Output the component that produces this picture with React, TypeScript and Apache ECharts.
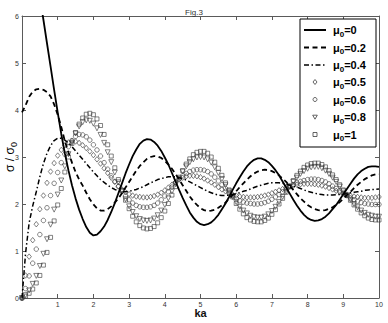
import React, { useEffect, useRef } from 'react';
import * as echarts from 'echarts';

// ka sample positions
const KA = [
  0, 0.1, 0.2, 0.3, 0.4, 0.5, 0.6, 0.7, 0.8, 0.9,
  1, 1.1, 1.2, 1.3, 1.4, 1.5, 1.6, 1.7, 1.8, 1.9,
  2, 2.1, 2.2, 2.3, 2.4, 2.5, 2.6, 2.7, 2.8, 2.9,
  3, 3.1, 3.2, 3.3, 3.4, 3.5, 3.6, 3.7, 3.8, 3.9,
  4, 4.1, 4.2, 4.3, 4.4, 4.5, 4.6, 4.7, 4.8, 4.9,
  5, 5.1, 5.2, 5.3, 5.4, 5.5, 5.6, 5.7, 5.8, 5.9,
  6, 6.1, 6.2, 6.3, 6.4, 6.5, 6.6, 6.7, 6.8, 6.9,
  7, 7.1, 7.2, 7.3, 7.4, 7.5, 7.6, 7.7, 7.8, 7.9,
  8, 8.1, 8.2, 8.3, 8.4, 8.5, 8.6, 8.7, 8.8, 8.9,
  9, 9.1, 9.2, 9.3, 9.4, 9.5, 9.6, 9.7, 9.8, 9.9,
  10,
];

// mu0 = 0 (solid)
const MU_0 = [
  null, null, null, null, null, 6.4, 5.92, 5.42, 4.93, 4.43,
  3.95, 3.49, 3.08, 2.72, 2.4, 2.12, 1.88, 1.68, 1.51, 1.39,
  1.33, 1.35, 1.42, 1.52, 1.66, 1.83, 2.02, 2.23, 2.44, 2.65,
  2.84, 3.02, 3.16, 3.28, 3.35, 3.38, 3.37, 3.32, 3.24, 3.13,
  2.99, 2.84, 2.66, 2.48, 2.3, 2.13, 1.97, 1.82, 1.71, 1.62,
  1.57, 1.55, 1.57, 1.61, 1.68, 1.77, 1.89, 2.01, 2.15, 2.3,
  2.44, 2.57, 2.69, 2.8, 2.88, 2.94, 2.97, 2.97, 2.94, 2.89,
  2.81, 2.72, 2.61, 2.48, 2.35, 2.22, 2.09, 1.97, 1.86, 1.77,
  1.7, 1.66, 1.64, 1.65, 1.68, 1.73, 1.8, 1.89, 1.98, 2.09,
  2.21, 2.32, 2.43, 2.54, 2.63, 2.7, 2.75, 2.79, 2.8, 2.8,
  2.79,
];

// mu0 = 0.2 (dashed)
const MU_02 = [
  3.95, 4.1, 4.28, 4.39, 4.44, 4.45, 4.43, 4.38, 4.29, 4.12,
  3.9, 3.64, 3.34, 3.1, 2.88, 2.68, 2.52, 2.39, 2.24, 2.1,
  1.99, 1.91, 1.86, 1.86, 1.89, 1.95, 2.03, 2.12, 2.23, 2.35,
  2.47, 2.59, 2.71, 2.81, 2.89, 2.96, 3.0, 3.02, 3.01, 2.98,
  2.92, 2.84, 2.75, 2.64, 2.52, 2.4, 2.28, 2.16, 2.06, 1.98,
  1.91, 1.87, 1.85, 1.86, 1.88, 1.92, 1.97, 2.03, 2.11, 2.19,
  2.27, 2.36, 2.44, 2.52, 2.59, 2.65, 2.69, 2.72, 2.73, 2.72,
  2.7, 2.66, 2.61, 2.54, 2.47, 2.38, 2.3, 2.21, 2.12, 2.05,
  1.98, 1.93, 1.89, 1.87, 1.86, 1.87, 1.9, 1.93, 1.98, 2.04,
  2.11, 2.19, 2.26, 2.34, 2.41, 2.47, 2.53, 2.57, 2.61, 2.63,
  2.63,
];

// mu0 = 0.4 (dash-dot)
const MU_04 = [
  0, 0.95, 1.6, 1.96, 2.26, 2.58, 2.86, 3.08, 3.24, 3.35,
  3.4, 3.4, 3.36, 3.3, 3.22, 3.13, 3.04, 2.95, 2.86, 2.77,
  2.68, 2.6, 2.52, 2.46, 2.4, 2.35, 2.31, 2.28, 2.26, 2.26,
  2.27, 2.29, 2.31, 2.34, 2.37, 2.41, 2.45, 2.48, 2.52, 2.54,
  2.56, 2.58, 2.58, 2.58, 2.56, 2.54, 2.51, 2.47, 2.43, 2.39,
  2.35, 2.31, 2.27, 2.24, 2.21, 2.19, 2.18, 2.18, 2.19, 2.2,
  2.22, 2.24, 2.27, 2.29, 2.32, 2.35, 2.38, 2.4, 2.42, 2.44,
  2.45, 2.45, 2.45, 2.44, 2.42, 2.4, 2.38, 2.36, 2.33, 2.3,
  2.27, 2.25, 2.23, 2.21, 2.2, 2.19, 2.19, 2.19, 2.2, 2.2,
  2.21, 2.22, 2.24, 2.25, 2.26, 2.27, 2.29, 2.3, 2.31, 2.31,
  2.32,
];

// mu0 = 0.5 (diamonds)
const MU_05 = [
  0, 0.48, 0.88, 1.23, 1.57, 1.89, 2.18, 2.45, 2.69, 2.87,
  3.03, 3.15, 3.25, 3.31, 3.34, 3.33, 3.3, 3.25, 3.19, 3.12,
  3.04, 2.95, 2.86, 2.76, 2.66, 2.56, 2.47, 2.38, 2.31, 2.25,
  2.21, 2.18, 2.16, 2.15, 2.14, 2.14, 2.15, 2.17, 2.2, 2.24,
  2.29, 2.35, 2.41, 2.47, 2.52, 2.56, 2.59, 2.6, 2.6, 2.59,
  2.57, 2.54, 2.5, 2.46, 2.41, 2.36, 2.31, 2.27, 2.23, 2.2,
  2.18, 2.16, 2.15, 2.14, 2.14, 2.14, 2.15, 2.16, 2.18, 2.2,
  2.23, 2.26, 2.29, 2.32, 2.35, 2.37, 2.39, 2.41, 2.42, 2.43,
  2.43, 2.43, 2.42, 2.41, 2.39, 2.37, 2.34, 2.31, 2.28, 2.25,
  2.22, 2.2, 2.18, 2.16, 2.15, 2.14, 2.13, 2.13, 2.13, 2.14,
  2.15,
];

// mu0 = 0.6 (circles)
const MU_06 = [
  0, 0.2, 0.47, 0.74, 1.04, 1.35, 1.65, 1.92, 2.18, 2.44,
  2.67, 2.88, 3.06, 3.22, 3.35, 3.44, 3.48, 3.47, 3.43, 3.36,
  3.26, 3.15, 3.02, 2.88, 2.74, 2.6, 2.48, 2.37, 2.27, 2.17,
  2.09, 2.02, 1.97, 1.94, 1.93, 1.93, 1.94, 1.97, 2.02, 2.09,
  2.17, 2.26, 2.36, 2.45, 2.53, 2.6, 2.65, 2.69, 2.72, 2.73,
  2.73, 2.72, 2.69, 2.64, 2.57, 2.49, 2.41, 2.33, 2.25, 2.18,
  2.12, 2.07, 2.04, 2.02, 2.01, 2.0, 2.0, 2.01, 2.03, 2.06,
  2.1, 2.15, 2.2, 2.26, 2.32, 2.37, 2.41, 2.45, 2.48, 2.5,
  2.52, 2.53, 2.53, 2.52, 2.5, 2.47, 2.43, 2.38, 2.33, 2.28,
  2.23, 2.18, 2.13, 2.09, 2.06, 2.03, 2.01, 2.0, 1.99, 1.99,
  1.99,
];

// mu0 = 0.8 (triangles)
const MU_08 = [
  0, 0.06, 0.16, 0.3, 0.47, 0.68, 0.94, 1.25, 1.56, 1.88,
  2.2, 2.5, 2.8, 3.06, 3.3, 3.5, 3.65, 3.74, 3.78, 3.77,
  3.71, 3.61, 3.47, 3.3, 3.1, 2.89, 2.67, 2.46, 2.27, 2.1,
  1.95, 1.83, 1.74, 1.68, 1.65, 1.64, 1.65, 1.69, 1.76, 1.86,
  1.98, 2.12, 2.27, 2.42, 2.56, 2.69, 2.8, 2.89, 2.95, 2.99,
  3.0, 2.99, 2.95, 2.88, 2.78, 2.66, 2.53, 2.4, 2.27, 2.15,
  2.04, 1.94, 1.86, 1.8, 1.75, 1.72, 1.71, 1.71, 1.73, 1.78,
  1.85, 1.94, 2.04, 2.15, 2.26, 2.37, 2.47, 2.56, 2.64, 2.7,
  2.75, 2.78, 2.79, 2.79, 2.76, 2.71, 2.64, 2.56, 2.47, 2.37,
  2.27, 2.18, 2.09, 2.0, 1.93, 1.86, 1.81, 1.77, 1.75, 1.73,
  1.73,
];

// mu0 = 1 (squares)
const MU_1 = [
  0, 0.04, 0.1, 0.19, 0.32, 0.48, 0.7, 0.97, 1.29, 1.64,
  1.98, 2.33, 2.68, 3.0, 3.29, 3.52, 3.7, 3.83, 3.91, 3.93,
  3.9, 3.81, 3.67, 3.48, 3.26, 3.02, 2.77, 2.52, 2.29, 2.08,
  1.9, 1.74, 1.62, 1.54, 1.49, 1.47, 1.48, 1.52, 1.6, 1.71,
  1.85, 2.01, 2.19, 2.37, 2.55, 2.71, 2.85, 2.96, 3.05, 3.1,
  3.12, 3.12, 3.08, 3.0, 2.89, 2.76, 2.61, 2.45, 2.3, 2.15,
  2.01, 1.89, 1.79, 1.71, 1.66, 1.63, 1.62, 1.62, 1.65, 1.7,
  1.78, 1.88, 2.0, 2.12, 2.25, 2.38, 2.5, 2.61, 2.7, 2.78,
  2.83, 2.86, 2.87, 2.87, 2.84, 2.79, 2.71, 2.62, 2.52, 2.41,
  2.3, 2.19, 2.08, 1.98, 1.89, 1.81, 1.75, 1.7, 1.67, 1.66,
  1.66,
];

const MU_LABELS = ['0', '0.2', '0.4', '0.5', '0.6', '0.8', '1'];
const X_TICKS = [0, 10, 1];
const Y_TICKS = [0, 6, 1];

const FONT = '"Liberation Sans", Arial, Helvetica, sans-serif';

export default function App() {
  const ref = useRef<HTMLDivElement>(null);

  useEffect(() => {
    if (!ref.current) return;
    const chart = echarts.init(ref.current, null, { renderer: 'svg' });

    const pairs = (arr: (number | null)[]) =>
      KA.map((x, i) => [x, arr[i]]).filter((p) => p[1] !== null);

    const mk = { color: 'rgba(0,0,0,0)', borderColor: '#3c3c3c', borderWidth: 0.8 };
    const axisLineStyle = { color: '#5a5a5a', width: 1 };
    const tick = { show: true, inside: true, length: 4, lineStyle: { color: '#5a5a5a' } };

    const subRich = (size: number, weight: string) => ({
      a: { fontSize: size, fontWeight: weight, fontFamily: FONT, color: '#000', fill: '#000', lineHeight: 16 },
      b: { fontSize: size - 3, fontWeight: weight, fontFamily: FONT, color: '#000', fill: '#000', lineHeight: 16, verticalAlign: 'bottom' },
    });

    // legend drawn with graphic elements
    const rowsY = [30, 47.5, 65, 82, 99.5, 117, 134.5];
    const lx1 = 304, lx2 = 326, sx = 315, tx = 333;
    const legendEls: any[] = [
      { type: 'rect', shape: { x: 300, y: 19, width: 76, height: 128 }, style: { fill: '#fff', stroke: '#000', lineWidth: 1 }, z: 100 },
    ];
    const lineKinds = [
      { lineDash: null, lw: 2 },
      { lineDash: [5, 3.5], lw: 2 },
      { lineDash: [5, 2.5, 1.5, 2.5], lw: 1.6 },
    ];
    MU_LABELS.forEach((m, i) => {
      const y = rowsY[i];
      if (i < 3) {
        const k = lineKinds[i];
        legendEls.push({
          type: 'line', z: 101,
          shape: { x1: lx1, y1: y, x2: lx2, y2: y },
          style: { stroke: '#000', lineWidth: k.lw, lineDash: k.lineDash || undefined },
        });
      } else if (i === 3) {
        legendEls.push({ type: 'polygon', z: 101, shape: { points: [[sx, y - 2.5], [sx + 2, y], [sx, y + 2.5], [sx - 2, y]] }, style: { fill: 'none', stroke: '#3c3c3c', lineWidth: 0.8 } });
      } else if (i === 4) {
        legendEls.push({ type: 'circle', z: 101, shape: { cx: sx, cy: y, r: 2 }, style: { fill: 'none', stroke: '#3c3c3c', lineWidth: 0.8 } });
      } else if (i === 5) {
        legendEls.push({ type: 'polygon', z: 101, shape: { points: [[sx - 2.3, y - 1.8], [sx + 2.3, y - 1.8], [sx, y + 2.2]] }, style: { fill: 'none', stroke: '#3c3c3c', lineWidth: 0.8 } });
      } else {
        legendEls.push({ type: 'rect', z: 101, shape: { x: sx - 2, y: y - 2, width: 4, height: 4 }, style: { fill: 'none', stroke: '#3c3c3c', lineWidth: 0.8 } });
      }
      legendEls.push({
        type: 'text', z: 101, x: tx, y: y,
        style: {
          text: '{a|μ}{b|0}{a|=' + m + '}',
          rich: subRich(11, 'bold'),
          verticalAlign: 'middle',
          fill: '#000',
        },
      });
    });

    const option: any = {
      animation: false,
      backgroundColor: '#fff',
      title: {
        text: 'Fig.3', left: 'center', top: 3,
        textStyle: { fontSize: 8, fontWeight: 'normal', color: '#333', fontFamily: FONT },
      },
      grid: { left: 22, right: 9, top: 16, bottom: 25, containLabel: false, outerBoundsMode: 'none' },
      xAxis: [
        {
          type: 'value', min: X_TICKS[0], max: X_TICKS[1], interval: X_TICKS[2], position: 'bottom',
          axisLine: { show: true, onZero: false, lineStyle: axisLineStyle },
          axisTick: tick,
          splitLine: { show: false },
          axisLabel: {
            fontSize: 7, color: '#333', fontFamily: FONT, margin: 3,
            formatter: (v: number) => (v === 0 ? '' : String(v)),
          },
          name: 'ka', nameLocation: 'middle', nameGap: 9, nameMoveOverlap: false,
          nameTextStyle: { fontSize: 11, fontWeight: 'bold', fontFamily: FONT, color: '#111' },
        },
        {
          type: 'value', min: X_TICKS[0], max: X_TICKS[1], interval: X_TICKS[2], position: 'top',
          axisLine: { show: true, onZero: false, lineStyle: axisLineStyle },
          axisTick: tick, splitLine: { show: false }, axisLabel: { show: false },
        },
      ],
      yAxis: [
        {
          type: 'value', min: Y_TICKS[0], max: Y_TICKS[1], interval: Y_TICKS[2], position: 'left',
          axisLine: { show: true, onZero: false, lineStyle: axisLineStyle },
          axisTick: tick, splitLine: { show: false },
          axisLabel: { fontSize: 7, color: '#333', fontFamily: FONT, margin: 3 },
          name: '{a|σ / σ}{b|0}', nameLocation: 'middle', nameGap: 4, nameMoveOverlap: false,
          nameTextStyle: { rich: subRich(12, 'normal') },
        },
        {
          type: 'value', min: Y_TICKS[0], max: Y_TICKS[1], interval: Y_TICKS[2], position: 'right',
          axisLine: { show: true, onZero: false, lineStyle: axisLineStyle },
          axisTick: tick, splitLine: { show: false }, axisLabel: { show: false },
        },
      ],
      series: [
        {
          name: 'μ0=0.5', type: 'scatter', data: pairs(MU_05), symbol: 'diamond', symbolSize: [4.5, 5.5],
          itemStyle: mk, emphasis: { disabled: true }, z: 2,
        },
        {
          name: 'μ0=0.6', type: 'scatter', data: pairs(MU_06), symbol: 'circle', symbolSize: 4.5,
          itemStyle: mk, emphasis: { disabled: true }, z: 2,
        },
        {
          name: 'μ0=0.8', type: 'scatter', data: pairs(MU_08), symbol: 'triangle', symbolRotate: 180, symbolSize: 5,
          itemStyle: mk, emphasis: { disabled: true }, z: 2,
        },
        {
          name: 'μ0=1', type: 'scatter', data: pairs(MU_1), symbol: 'rect', symbolSize: 4,
          itemStyle: mk, emphasis: { disabled: true }, z: 2,
        },
        {
          name: 'μ0=0', type: 'line', data: pairs(MU_0), showSymbol: false, symbol: 'none', clip: true,
          lineStyle: { color: '#000', width: 1.8, type: 'solid' }, z: 3,
        },
        {
          name: 'μ0=0.2', type: 'line', data: pairs(MU_02), showSymbol: false, symbol: 'none', clip: true,
          lineStyle: { color: '#000', width: 1.8, type: [5, 3.5] }, z: 3,
        },
        {
          name: 'μ0=0.4', type: 'line', data: pairs(MU_04), showSymbol: false, symbol: 'none', clip: true,
          lineStyle: { color: '#000', width: 1.5, type: [5, 2.5, 1.5, 2.5] }, z: 3,
        },
      ],
      graphic: { elements: legendEls },
    };

    chart.setOption(option);
    return () => chart.dispose();
  }, []);

  return <div ref={ref} style={{ position: 'fixed', left: 0, top: 0, width: 388, height: 323 }} />;
}
